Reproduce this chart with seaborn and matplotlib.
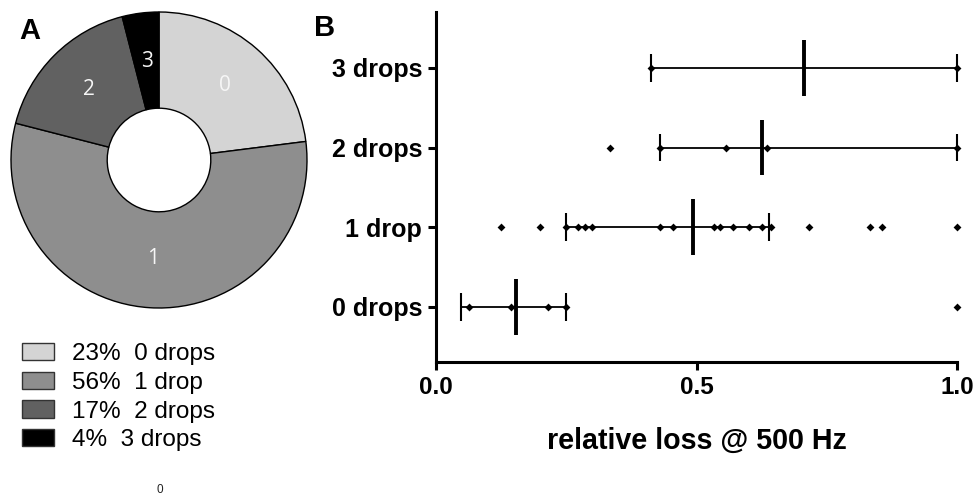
import matplotlib
matplotlib.use("Agg")
import matplotlib.pyplot as plt
import seaborn as sns
import pandas as pd
import numpy as np

# ---- data ----
pie_labels = ["0", "1", "2", "3"]
pie_pct = [23, 56, 17, 4]
pie_legend = ["23%  0 drops", "56%  1 drop", "17%  2 drops", "4%  3 drops"]
pie_colors = ["#d4d4d4", "#8e8e8e", "#616161", "#000000"]

groups = ["3 drops", "2 drops", "1 drop", "0 drops"]
pts_3 = [0.412, 1.0]
pts_2 = [0.334, 0.429, 0.556, 0.636, 1.0]
pts_1 = [0.125, 0.200, 0.249, 0.272, 0.286, 0.300, 0.429, 0.455, 0.533, 0.545,
         0.571, 0.600, 0.625, 0.643, 0.715, 0.833, 0.856, 1.0]
pts_0 = [0.064, 0.144, 0.215, 0.250, 1.0]
medians = [0.706, 0.625, 0.494, 0.154]
lows = [0.412, 0.429, 0.249, 0.048]
highs = [1.0, 1.0, 0.639, 0.250]
x_ticks = [0.0, 0.5, 1.0]
x_tick_labels = ["0.0", "0.5", "1.0"]

sns.set_theme(style="white")
plt.rcParams["font.family"] = ["Liberation Sans", "DejaVu Sans"]
plt.rcParams["text.color"] = "black"

fig = plt.figure(figsize=(9.75, 4.97), dpi=100)

# ---- Panel A: donut ----
axp = fig.add_axes([(159 - 150) / 975, 1 - (160 + 150) / 497, 300 / 975, 300 / 497])
wedges, texts = axp.pie(pie_pct, colors=pie_colors, startangle=90, counterclock=False,
                        labels=pie_labels, labeldistance=0.67,
                        wedgeprops=dict(width=0.65, edgecolor="black", linewidth=1.0),
                        textprops=dict(color="#f6f6f6", fontsize=15, family=["Open Sans", "DejaVu Sans"]))
for t in texts:
    t.set_ha("center")
    t.set_va("center")
axp.set_xlim(-1.0135, 1.0135)
axp.set_ylim(-1.0135, 1.0135)
axp.set_aspect("equal")
axp.axis("off")

leg = fig.legend(wedges, pie_legend, loc="upper left", bbox_to_anchor=(22 / 975, 1 - 343 / 497),
                 frameon=False, fontsize=17.5, handlelength=1.3, handleheight=0.72,
                 handletextpad=0.75, labelspacing=0.27, borderpad=0, borderaxespad=0)
for h in leg.legend_handles:
    h.set_edgecolor("#333333")
    h.set_linewidth(1.0)
for t in leg.get_texts():
    t.set_color("black")

fig.text(160 / 975, 1 - 490 / 497, "0", fontsize=8.5, ha="center", va="center", color="#222222")
fig.text(30 / 975, 1 - 31 / 497, "A", fontsize=21, fontweight="bold", ha="center", va="center")
fig.text(325 / 975, 1 - 28 / 497, "B", fontsize=21, fontweight="bold", ha="center", va="center")

# ---- Panel B ----
ax = fig.add_axes([436 / 975, 1 - 362 / 497, 521 / 975, 350 / 497])
df = pd.DataFrame({
    "loss": pts_3 + pts_2 + pts_1 + pts_0,
    "group": [groups[0]] * len(pts_3) + [groups[1]] * len(pts_2)
             + [groups[2]] * len(pts_1) + [groups[3]] * len(pts_0),
})
sns.stripplot(data=df, x="loss", y="group", order=groups, orient="h", jitter=False,
              marker="D", size=4, color="black", linewidth=0, ax=ax, clip_on=False, zorder=4)

ypos = np.arange(len(groups))
ax.hlines(ypos, lows, highs, color="black", linewidth=1.3, zorder=3)
ax.vlines(lows, ypos - 0.175, ypos + 0.175, color="black", linewidth=1.5, zorder=3)
ax.vlines(highs, ypos - 0.175, ypos + 0.175, color="black", linewidth=1.5, zorder=3, clip_on=False)
ax.vlines(medians, ypos - 0.35, ypos + 0.35, color="black", linewidth=2.8, zorder=5)

ax.set_xlim(0, 1)
ax.set_ylim(3.69, -0.70)
ax.set_xticks(x_ticks)
ax.set_xticklabels(x_tick_labels)
ax.set_xlabel("relative loss @ 500 Hz", fontsize=20.6, fontweight="bold", labelpad=20, color="black")
ax.set_ylabel("")
for s in ["top", "right"]:
    ax.spines[s].set_visible(False)
for s in ["left", "bottom"]:
    ax.spines[s].set_linewidth(2.2)
    ax.spines[s].set_color("black")
ax.tick_params(axis="both", direction="out", length=6, width=2.2, color="black",
               labelcolor="black", bottom=True, left=True, pad=4)
ax.tick_params(axis="y", labelsize=18)
ax.tick_params(axis="x", labelsize=17.5)
for lab in ax.get_xticklabels() + ax.get_yticklabels():
    lab.set_fontweight("bold")
ax.grid(False)

fig.savefig("out.png", dpi=100)
